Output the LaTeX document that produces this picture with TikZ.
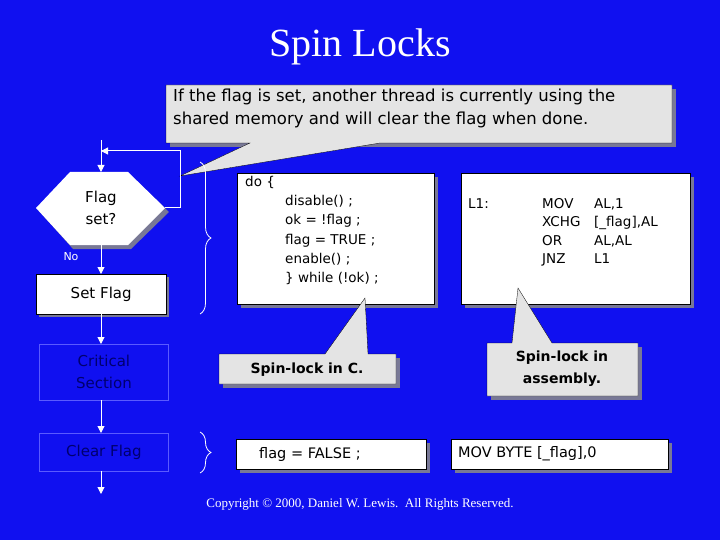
\documentclass[tikz,border=0pt]{standalone}
\usepackage{fontspec}
\setmainfont{Liberation Serif}
\newfontfamily\tah{DejaVu Sans}
\usetikzlibrary{arrows.meta,decorations.pathreplacing}
\definecolor{bg}{RGB}{16,16,240}
\definecolor{callg}{RGB}{228,228,228}
\definecolor{shd}{RGB}{120,120,150}
\definecolor{dblue}{RGB}{0,0,110}
\definecolor{lblue}{RGB}{90,90,255}
\begin{document}
\begin{tikzpicture}[x=1pt,y=-1pt,
  flow/.style={white,line width=1pt},
  arr/.style={flow,-{Triangle[width=7pt,length=7pt]}},
  wbox/.style={draw=black,fill=white,line width=0.4pt},
  txt/.style={font=\tah\fontsize{14}{17}\selectfont,inner sep=0pt},
  br/.style={white,line width=0.8pt,decorate,decoration={brace,amplitude=11pt}}]
\useasboundingbox (0,0) rectangle (720,540);
\fill[bg] (0,0) rectangle (720,540);
\node[inner sep=0pt,white,font=\fontsize{40}{44}\selectfont] (title) at (360,47) {Spin Locks};
% top callout
\fill[shd] (170,89) rectangle (676,147);
\fill[callg,draw=black,line width=0.3pt] (166,85) -- (672,85) -- (672,143) -- (380,143) -- (180,176) -- (250,143) -- (166,143) -- cycle;
\node[txt,align=left,anchor=north west,font=\tah\fontsize{16.5}{23}\selectfont] (callt) at (173,89) {If the flag is set, another thread is currently using the\\shared memory and will clear the flag when done.};
% flowchart
\coordinate (top) at (101,140);
\fill[shd] (73,176) -- (131,176) -- (169,212) -- (131,249) -- (73,249) -- (40,212) -- cycle;
\filldraw[white,draw=none] (70,172) -- (128,172) -- (165,208) -- (128,245) -- (70,245) -- (36,208) -- cycle;
\node[txt,align=center,text=black,font=\tah\fontsize{15}{22}\selectfont] (flag) at (101,208) {Flag\\set?};
\coordinate (hr) at (165,208);
\coordinate (lr) at (180,208);
\coordinate (lt) at (180,151);
\coordinate (ll) at (101,151);
\coordinate (ht) at (101,172);
\coordinate (hb) at (101,245);
\draw[arr] (top) -- (ht);
\draw[flow] (hr) -- (lr) -- (lt) -- (ll);
\draw[arr] (lt) -- (ll);
\node[txt,white,font=\tah\fontsize{11}{13}\selectfont] (no) at (71,257) {No};
\fill[shd] (39,277) rectangle (169,317);
\node[wbox,minimum width=130pt,minimum height=40pt,inner sep=0pt,anchor=north west,font=\tah\fontsize{15}{17}\selectfont] (set) at (36,274) {Set Flag};
\coordinate (st) at (101,274);
\coordinate (sb) at (101,314);
\draw[arr] (hb) -- (st);
\node[draw=lblue,line width=0.8pt,minimum width=129pt,minimum height=56pt,inner sep=0pt,anchor=north west,align=center,text=dblue,font=\tah\fontsize{15}{22}\selectfont] (crit) at (39,344) {Critical\\Section};
\coordinate (ct) at (101,344);
\coordinate (cb) at (101,400);
\draw[arr] (sb) -- (ct);
\node[draw=lblue,line width=0.8pt,minimum width=129pt,minimum height=38pt,inner sep=0pt,anchor=north west,text=dblue,font=\tah\fontsize{15}{17}\selectfont] (clear) at (39,433) {Clear Flag};
\coordinate (lt2) at (101,433);
\coordinate (lb2) at (101,471);
\draw[arr] (cb) -- (lt2);
\coordinate (end) at (101,494);
\draw[arr] (lb2) -- (end);
% braces
\draw[br] (200,162) -- (200,314);
\draw[br] (200,432) -- (200,473);
% code boxes
\fill[shd] (241,177) rectangle (438,308);
\node[wbox,minimum width=197pt,minimum height=131pt,inner sep=0pt,anchor=north west] (cbox) at (237,173) {};
\node[txt,anchor=north west,align=left,font=\tah\fontsize{13.5}{19.2}\selectfont] (ccode) at (245,176) {do \{\\\hspace*{40pt}disable() ;\\\hspace*{40pt}ok = !flag ;\\\hspace*{40pt}flag = TRUE ;\\\hspace*{40pt}enable() ;\\\hspace*{40pt}\} while (!ok) ;};
\fill[shd] (465,177) rectangle (694,308);
\node[wbox,minimum width=229pt,minimum height=131pt,inner sep=0pt,anchor=north west] (abox) at (461,173) {};
\node[txt,anchor=north west,align=left,font=\tah\fontsize{13.5}{19.2}\selectfont] (acode) at (468,195) {\begin{tabular}{@{}p{62pt}p{40pt}l@{}}L1: & MOV & AL,1\\[-1pt] & XCHG & [\_flag],AL\\[-1pt] & OR & AL,AL\\[-1pt] & JNZ & L1\end{tabular}};
% C callout
\fill[shd] (223,358) rectangle (400,388);
\fill[callg,draw=black,line width=0.3pt] (219,354) -- (325,354) -- (365,298) -- (368,354) -- (396,354) -- (396,384) -- (219,384) -- cycle;
\node[txt,font=\tah\bfseries\fontsize{14}{17}\selectfont] (cl1) at (307,370) {Spin-lock in C.};
% asm callout
\fill[shd] (491,347) rectangle (642,400);
\fill[callg,draw=black,line width=0.3pt] (487,343) -- (512,343) -- (518,288) -- (552,343) -- (638,343) -- (638,396) -- (487,396) -- cycle;
\node[txt,align=center,font=\tah\bfseries\fontsize{14}{22}\selectfont] (cl2) at (562,369) {Spin-lock in\\assembly.};
% bottom boxes
\fill[shd] (240,443) rectangle (430,473);
\node[wbox,minimum width=190pt,minimum height=30pt,inner sep=0pt,anchor=north west] (fbox) at (236,439) {};
\node[txt,anchor=west,font=\tah\fontsize{14.5}{17}\selectfont] (ft) at (259,454) {flag = FALSE ;};
\fill[shd] (455,443) rectangle (672,473);
\node[wbox,minimum width=217pt,minimum height=30pt,inner sep=0pt,anchor=north west] (mbox) at (451,439) {};
\node[txt,anchor=west,font=\tah\fontsize{14.5}{17}\selectfont] (mt) at (458,454) {MOV BYTE [\_flag],0};
\node[white,inner sep=0pt,font=\fontsize{13}{15}\selectfont] (copy) at (360,504) {Copyright \textcopyright{} 2000, Daniel W. Lewis.\ \ All Rights Reserved.};
\end{tikzpicture}
\end{document}
